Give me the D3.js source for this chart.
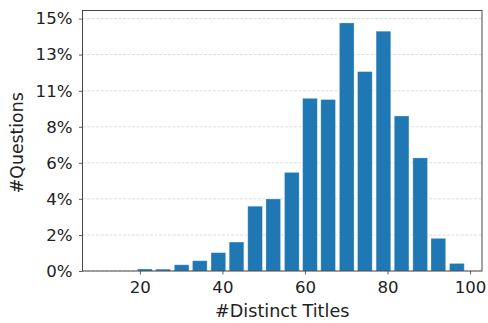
<!DOCTYPE html>
<html>
<head>
<meta charset="utf-8">
<script src="https://cdn.jsdelivr.net/npm/d3@7"></script>
<style>
  body { margin: 0; background: #fff; }
  text { font-family: "DejaVu Sans", sans-serif; fill: #222; }
</style>
</head>
<body>
<svg width="488" height="323"></svg>
<script>
// histogram bins (left edge of each bin) and share of questions
let binStarts = [19.0, 23.4, 27.9, 32.3, 36.8, 41.2, 45.7, 50.1, 54.6,
                 59.0, 63.4, 67.9, 72.3, 76.8, 81.2, 85.7, 90.1, 94.6],
    binWidth = 4.44,
    shares = [0.0012, 0.0011, 0.0037, 0.0061, 0.0109, 0.0172, 0.0385, 0.0428, 0.0586,
              0.1026, 0.1019, 0.1474, 0.1185, 0.1425, 0.0921, 0.0672, 0.0194, 0.0045],
    xTicks = [20, 40, 60, 80, 100],
    yTicks = [0, 0.0214, 0.0429, 0.0643, 0.0857, 0.1071, 0.1286, 0.15],
    yTickLabels = ["0%", "2%", "4%", "6%", "8%", "11%", "13%", "15%"];

let svg = d3.select("svg"),
    margin = {top: 10.5, right: 6, bottom: 52, left: 82.5},
    width = +svg.attr("width") - margin.left - margin.right,
    height = +svg.attr("height") - margin.top - margin.bottom;

let x = d3.scaleLinear().domain([6.1, 102.9]).range([0, width]),
    y = d3.scaleLinear().domain([0, 0.1548]).range([height, 0]);

let g = svg.append("g").attr("transform", "translate(" + margin.left + "," + margin.top + ")");

// dashed horizontal grid
g.append("g").selectAll("line")
  .data(yTicks)
  .enter().append("line")
    .attr("x1", 0).attr("x2", width)
    .attr("y1", d => y(d)).attr("y2", d => y(d))
    .attr("stroke", "#d4d4d4")
    .attr("stroke-width", 0.8)
    .attr("stroke-dasharray", "3,1.5");

// bars, 80% of bin width
g.append("g").selectAll("rect")
  .data(shares)
  .enter().append("rect")
    .attr("x", (d, i) => x(binStarts[i] + binWidth * 0.1))
    .attr("width", x(binWidth * 0.8) - x(0))
    .attr("y", d => y(d))
    .attr("height", d => height - y(d))
    .attr("fill", "#1f77b4")
    .attr("stroke", "rgba(255,255,255,0.35)")
    .attr("stroke-width", 0.8);

let xAxis = g.append("g")
  .attr("transform", "translate(0," + height + ")")
  .call(d3.axisBottom(x).tickValues(xTicks).tickSize(3.5).tickPadding(6.5));

let yAxis = g.append("g")
  .call(d3.axisLeft(y).tickValues(yTicks).tickFormat((d, i) => yTickLabels[i]).tickSize(3.5).tickPadding(6.5));

[xAxis, yAxis].forEach(a => {
  a.select(".domain").remove();
  a.selectAll("line").attr("stroke", "#333").attr("stroke-width", 0.8);
  a.selectAll("text").attr("font-size", 16.6).attr("fill", "#222").style("font-family", "DejaVu Sans");
});

// frame
g.append("rect")
  .attr("width", width).attr("height", height)
  .attr("fill", "none").attr("stroke", "#333").attr("stroke-width", 0.9);

svg.append("text")
  .attr("x", margin.left + width / 2)
  .attr("y", 316.5)
  .attr("text-anchor", "middle")
  .attr("font-size", 17.6)
  .text("#Distinct Titles");

svg.append("text")
  .attr("transform", "translate(22.5," + (margin.top + height / 2 + 2) + ") rotate(-90)")
  .attr("text-anchor", "middle")
  .attr("font-size", 17.3)
  .text("#Questions");
</script>
</body>
</html>
